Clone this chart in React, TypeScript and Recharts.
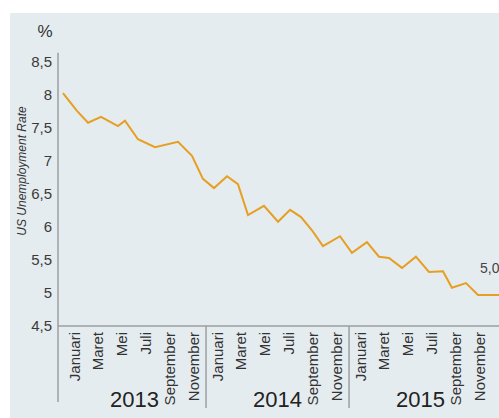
import { LineChart, Line, XAxis, YAxis, ReferenceLine, LabelList } from 'recharts';

// month position (0 = Januari 2013) of each vertex, and the rate there
const monthPos = [0, 1.17, 2.1, 3.19, 4.61, 5.2, 6.29, 7.72, 9.65, 10.82, 11.74, 12.67, 13.76, 14.68, 15.52, 16.86, 18.04, 19.05, 19.97, 20.89, 21.81, 23.24, 24.24, 25.5, 26.51, 27.35, 28.44, 29.61, 30.7, 31.88, 32.63, 33.81, 34.82, 36.58];
const rate = [8.03, 7.76, 7.58, 7.67, 7.53, 7.61, 7.33, 7.21, 7.29, 7.08, 6.73, 6.59, 6.77, 6.65, 6.18, 6.32, 6.08, 6.26, 6.15, 5.95, 5.71, 5.86, 5.61, 5.77, 5.55, 5.53, 5.38, 5.55, 5.32, 5.33, 5.08, 5.15, 4.97, 4.97];

const monthLabels = ['Januari', 'Maret', 'Mei', 'Juli', 'September', 'November'];
const yearLabels = ['2013', '2014', '2015'];
const monthTicks = [0, 2, 4, 6, 8, 10, 12, 14, 16, 18, 20, 22, 24, 26, 28, 30, 32, 34];
const yTicks = [4.5, 5, 5.5, 6, 6.5, 7, 7.5, 8, 8.5];

const data = monthPos.map((m, i) => ({ m, rate: rate[i] }));

const font = "'Liberation Sans Narrow', 'Liberation Sans', sans-serif";
const lineColor = '#e69f22';
const axisColor = '#9b9fa2';
const xMin = -0.42;
const xMax = 36.58;

const fmt = (v: number) => String(v).replace('.', ',');

const MonthTick = ({ x, y, payload }: any) => {
    const m = payload.value;
    const label = monthLabels[(m % 12) / 2];
    return (
        <g>
            <text transform={`translate(${x + 11}, ${y + 6}) rotate(-90)`} textAnchor="end"
                dominantBaseline="central" fontSize={15} fontFamily={font} fill="#333">{label}</text>
            {m % 12 === 0 && m > 0 &&
                <line x1={x} x2={x} y1={y} y2={y + 82} stroke={axisColor} strokeWidth={1.5} />}
            {m % 12 === 6 &&
                <text x={x} y={y + 81} textAnchor="middle" fontSize={22} fontFamily={font} fill="#222">
                    {yearLabels[Math.floor(m / 12)]}
                </text>}
        </g>
    );
};

const YTitle = ({ viewBox }: any) => {
    const cy = viewBox.y + viewBox.height / 2 - 23;
    return (
        <g>
            <text x={45} y={viewBox.y - 25} textAnchor="middle" fontSize={17} fontFamily={font} fill="#333">%</text>
            <text transform={`translate(${viewBox.x + 26}, ${cy}) rotate(-90)`} textAnchor="middle"
                fontSize={12} fontStyle="italic" fontFamily={font} fill="#333">US Unemployment Rate</text>
        </g>
    );
};

const EndLabel = ({ x, y, value, index }: any) => {
    if (index !== rate.length - 2) return null;
    return (
        <text x={x + 2} y={y - 22} fontSize={14} fontFamily={font} fill="#444">
            {Number(value).toFixed(1).replace('.', ',')}
        </text>
    );
};

const App = () => {
    return (
        <div style={{ position: 'absolute', left: 0, top: 0, width: 499, height: 418, background: '#fff' }}>
            <div style={{ position: 'absolute', left: 10, top: 13, right: 0, bottom: 0, background: '#e5ecef' }} />
            <div style={{ position: 'absolute', left: 0, top: 0 }}>
                <LineChart width={499} height={418} data={data} margin={{ top: 62, right: 0, bottom: 12, left: 0 }}>
                    <XAxis dataKey="m" type="number" domain={[xMin, xMax]} allowDataOverflow ticks={monthTicks}
                        interval={0} height={80} tickSize={0} tickMargin={0} tickLine={false}
                        axisLine={{ stroke: axisColor, strokeWidth: 1.5 }} tick={<MonthTick />} />
                    <YAxis domain={[4.5, 8.5]} ticks={yTicks} width={58} axisLine={false} tickLine={false}
                        tickSize={0} tickMargin={6} tickFormatter={fmt} interval={0}
                        tick={{ fontSize: 15, fontFamily: font, fill: '#3a3a3a' }}
                        label={<YTitle />} />
                    <ReferenceLine segment={[{ x: xMin, y: 8.64 }, { x: xMin, y: 3.35 }]} ifOverflow="visible"
                        stroke={axisColor} strokeWidth={1.5} />
                    <Line dataKey="rate" stroke={lineColor} strokeWidth={2} dot={false} isAnimationActive={false}>
                        <LabelList dataKey="rate" content={<EndLabel />} />
                    </Line>
                </LineChart>
            </div>
        </div>
    );
};

export default App;
